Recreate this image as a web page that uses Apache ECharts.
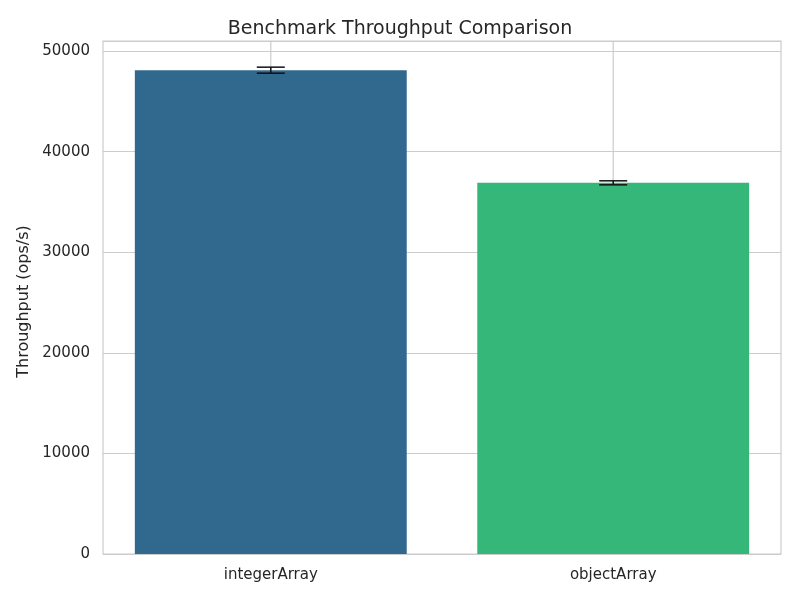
<!DOCTYPE html>
<html>
<head>
<meta charset="utf-8">
<script src="https://cdn.jsdelivr.net/npm/echarts@6/dist/echarts.min.js"></script>
<style>
html, body { margin: 0; padding: 0; background: #fff; }
#main { width: 800px; height: 600px; }
</style>
</head>
<body>
<div id="main"></div>
<script>
// data
var categories = ['integerArray', 'objectArray'];
var throughput = [48100, 36900];
var errors = [300, 200];
var barColors = ['#31688e', '#35b779'];

var chart = echarts.init(document.getElementById('main'));

var positions = categories.map(function(c, i) { return i; });
var barData = throughput.map(function(v, i) { return [i, v]; });
var errData = throughput.map(function(v, i) {
	return [i, v - errors[i], v + errors[i]];
});
var halfBar = 0.397;

chart.setOption({
	animation: false,
	title: {
		text: 'Benchmark Throughput Comparison',
		left: 'center',
		top: 15,
		textStyle: { fontFamily: 'DejaVu Sans', fontSize: 19, fontWeight: 'normal', color: '#262626' }
	},
	grid: { left: 103, right: 19, top: 41, bottom: 46, show: true, borderColor: '#cccccc', borderWidth: 1.2 },
	xAxis: {
		type: 'value',
		min: -0.49,
		max: 1.49,
		axisLine: { show: false },
		axisTick: { show: false },
		axisLabel: {
			customValues: positions,
			fontFamily: 'DejaVu Sans', fontSize: 15, color: '#262626', margin: 14,
			formatter: function(v) { return categories[Math.round(v)]; }
		},
		splitLine: { show: false }
	},
	yAxis: {
		type: 'value',
		min: 0,
		max: 51000,
		interval: 10000,
		name: 'Throughput (ops/s)',
		nameLocation: 'middle',
		nameGap: 63,
		nameTextStyle: { fontFamily: 'DejaVu Sans', fontSize: 16, color: '#262626', padding: [0, 8, 0, 0] },
		axisLine: { show: false },
		axisTick: { show: false },
		axisLabel: {
			fontFamily: 'DejaVu Sans', fontSize: 15, color: '#262626', margin: 13, showMaxLabel: false,
			formatter: function(v) { return String(v); }
		},
		splitLine: { show: true, lineStyle: { color: '#cccccc', width: 1.2 } }
	},
	series: [{
		// vertical grid lines at category centres, behind the bars
		type: 'custom',
		z: 1,
		silent: true,
		data: positions.map(function(p) { return [p]; }),
		renderItem: function(params, api) {
			var cs = params.coordSys;
			var x = api.coord([api.value(0), 0])[0];
			return {
				type: 'line',
				shape: { x1: x, y1: cs.y, x2: x, y2: cs.y + cs.height },
				style: { stroke: '#cccccc', lineWidth: 1.2 }
			};
		}
	}, {
		// bars
		type: 'custom',
		z: 2,
		data: barData,
		renderItem: function(params, api) {
			var i = api.value(0);
			var tl = api.coord([i - halfBar, api.value(1)]);
			var br = api.coord([i + halfBar, 0]);
			return {
				type: 'rect',
				shape: { x: tl[0], y: tl[1], width: br[0] - tl[0], height: br[1] - tl[1] },
				style: { fill: barColors[params.dataIndex] }
			};
		}
	}, {
		// error bars
		type: 'custom',
		z: 5,
		data: errData,
		renderItem: function(params, api) {
			var x = api.value(0);
			var lo = api.coord([x, api.value(1)]);
			var hi = api.coord([x, api.value(2)]);
			var half = 14;
			var style = { stroke: '#111111', lineWidth: 1.5 };
			return {
				type: 'group',
				children: [
					{ type: 'line', shape: { x1: lo[0], y1: lo[1], x2: hi[0], y2: hi[1] }, style: style },
					{ type: 'line', shape: { x1: lo[0] - half, y1: lo[1], x2: lo[0] + half, y2: lo[1] }, style: style },
					{ type: 'line', shape: { x1: hi[0] - half, y1: hi[1], x2: hi[0] + half, y2: hi[1] }, style: style }
				]
			};
		}
	}]
});
</script>
</body>
</html>
